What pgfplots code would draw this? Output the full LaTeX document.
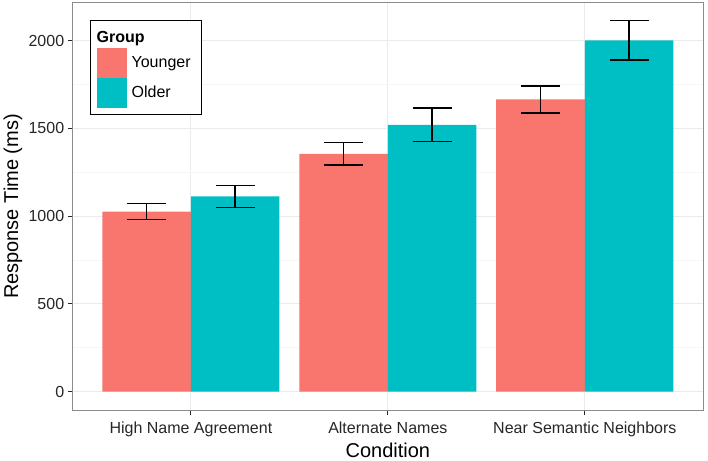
\documentclass[border=0pt]{standalone}
\usepackage{pgfplots}
\pgfplotsset{compat=1.18}
\usepackage{fontspec}
\setmainfont{Liberation Sans}
\definecolor{young}{HTML}{F8766D}
\definecolor{old}{HTML}{00BFC4}
\definecolor{gridmajor}{HTML}{EBEBEB}
\definecolor{gridminor}{HTML}{F6F6F6}
\definecolor{border}{HTML}{8C8C8C}

\pgfdeclareplotmark{cap}{%
  \pgfsetlinewidth{1.6pt}%
  \pgfsetstrokecolor{black}%
  \pgfpathmoveto{\pgfqpoint{-19.5pt}{0pt}}%
  \pgfpathlineto{\pgfqpoint{19.5pt}{0pt}}%
  \pgfusepathqstroke}

\pgfplotstableread{
x y e
1 1026 45
2 1355 65
3 1665 76
}\younger
\pgfplotstableread{
x y e
1 1112 63
2 1520 95
3 2002 113
}\older

\begin{document}
\begin{tikzpicture}
\useasboundingbox (-72.7pt,-50pt) rectangle (635.3pt,410pt);
\begin{axis}[
  at={(0pt,0pt)}, anchor=south west, scale only axis,
  width=630.3pt, height=407pt,
  xmin=0.4, xmax=3.6, ymin=-105, ymax=2215,
  ybar=0pt, bar width=88.6pt,
  xtick={1,2,3},
  xticklabels={High Name Agreement, Alternate Names, Near Semantic Neighbors},
  ytick={0,500,1000,1500,2000},
  minor ytick={250,750,1250,1750},
  grid=both,
  major grid style={draw=gridmajor, line width=1pt},
  minor grid style={draw=gridminor, line width=0.8pt},
  axis line style={draw=border, line width=1pt},
  tick align=outside, tick pos=left,
  major tick length=5pt, minor tick length=0pt,
  every tick/.style={black!85, line width=0.9pt},
  /pgf/number format/assume math mode=true,
  /pgf/number format/1000 sep={},
  ticklabel style={font=\fontsize{16}{19}\selectfont, text=black!85},
  xticklabel style={yshift=-3pt},
  xlabel={Condition}, ylabel={Response Time (ms)},
  xlabel style={font=\fontsize{20}{24}\selectfont, at={(axis description cs:0.5,-0.098)}, anchor=center},
  ylabel style={font=\fontsize{20}{24}\selectfont, at={(axis description cs:-0.0947,0.5)}, anchor=center},
  legend cell align=left,
  legend image code/.code={\fill[#1, draw=none] (0pt,-15pt) rectangle (30pt,15pt);},
  legend style={at={(rel axis cs:0.0275,0.958)}, anchor=north west,
    draw=black, line width=1.2pt, fill=white,
    inner xsep=6pt, inner ysep=7pt, row sep=0pt, column sep=0pt,
    font=\fontsize{16}{19}\selectfont,
    nodes={inner xsep=5pt, inner ysep=0pt}},
  error bars/error bar style={black, line width=1.6pt},
  error bars/error mark=cap,
]
\addlegendimage{legend image code/.code={\path[draw=none, fill=none] (0pt,-10pt) rectangle (0pt,10pt);}}
\addlegendentry{\hspace*{-35pt}\textbf{Group}}
\addplot[fill=young, draw=none,
  error bars/.cd, y dir=both, y explicit]
  table[x=x, y=y, y error=e] {\younger};
\addlegendentry{Younger}
\addplot[fill=old, draw=none,
  error bars/.cd, y dir=both, y explicit]
  table[x=x, y=y, y error=e] {\older};
\addlegendentry{Older}
\end{axis}
\end{tikzpicture}
\end{document}
